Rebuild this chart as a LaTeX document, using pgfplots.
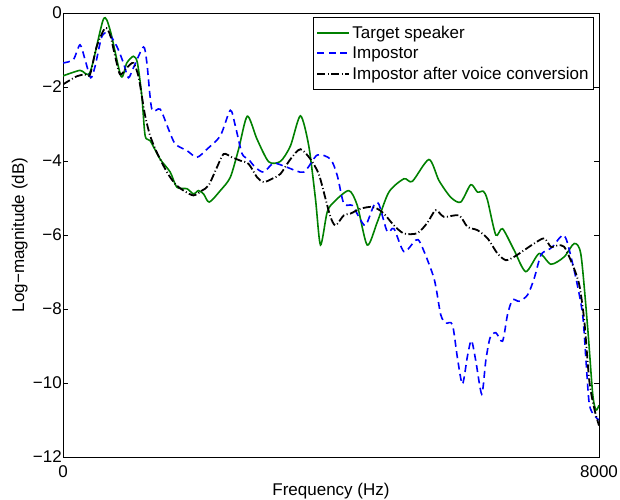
\documentclass[border=0pt]{standalone}
\usepackage{fontspec}
\setmainfont{Liberation Sans}
\usepackage{pgfplots}
\pgfplotsset{compat=1.18}
\definecolor{mgreen}{rgb}{0,0.5,0}
\begin{document}
\begin{tikzpicture}[font=\fontsize{17bp}{20bp}\selectfont]
\begin{axis}[
  name=ax,
  scale only axis, width=536bp, height=444bp,
  xmin=0, xmax=8000, ymin=-12, ymax=0,
  xtick={0,8000}, xticklabels={0,8000},
  ytick={-12,-10,-8,-6,-4,-2,0}, yticklabels={−12,−10,−8,−6,−4,−2,0},
  tick align=inside, tick pos=both,
  major tick length=5bp,
  axis line style={line width=0.9bp},
  every tick/.style={black, line width=0.8bp},
  yticklabel style={inner sep=1bp},
  xticklabel style={inner sep=2bp, yshift=-6bp},
  xlabel={Frequency (Hz)}, ylabel={Log−magnitude (dB)},
  xlabel style={inner sep=0bp, yshift=-4bp},
  ylabel style={inner sep=0bp, yshift=4bp},
  legend cell align=left,
  legend style={at={(1,1)}, anchor=north east, xshift=-5bp, yshift=-4bp,
    draw=black, line width=0.8bp, inner xsep=3bp, inner ysep=5bp,
    nodes={inner ysep=3.5bp, inner xsep=2bp}},
  legend image code/.code={\draw[#1, line width=2bp] (0bp,0bp) -- (32bp,0bp);},
]
\addplot[mgreen, line width=1.6bp, smooth, tension=0.45] coordinates {
(0,-1.70) (254,-1.55) (404,-1.60) (603,-0.17) (703,-0.46) (867,-1.71) (952,-1.35)
(1051,-1.17) (1111,-1.35) (1177,-2.25) (1226,-3.32) (1301,-3.45) (1450,-3.95)
(1600,-4.30) (1700,-4.71) (1850,-4.75) (1948,-4.89) (2023,-4.80) (2098,-4.89)
(2183,-5.11) (2348,-4.80) (2497,-4.44) (2621,-3.68) (2751,-2.79) (2896,-3.41)
(3070,-4.02) (3245,-4.01) (3395,-3.59) (3544,-2.78) (3668,-3.59) (3768,-5.02)
(3843,-6.27) (3943,-5.38) (4042,-5.11) (4266,-4.80) (4392,-5.20) (4541,-6.27)
(4691,-5.65) (4864,-4.84) (5089,-4.48) (5214,-4.55) (5462,-3.96) (5612,-4.53)
(5787,-4.98) (5936,-5.11) (6086,-4.64) (6186,-4.84) (6276,-4.82) (6336,-5.06)
(6460,-6.00) (6560,-5.83) (6733,-6.41) (6908,-6.99) (7107,-6.50) (7282,-6.79)
(7481,-6.59) (7631,-6.23) (7731,-6.54) (7831,-8.51) (7906,-10.30) (7955,-10.73)
(8000,-10.6)
};
\addlegendentry{Target speaker}
\addplot[blue, line width=1.6bp, smooth, tension=0.45, dash pattern=on 7bp off 4.5bp] coordinates {
(0,-1.35) (154,-1.26) (254,-0.86) (329,-1.26) (414,-1.75) (479,-1.44) (579,-0.64)
(677,-0.55) (803,-0.90) (902,-1.35) (976,-1.75) (1051,-1.48) (1201,-0.92)
(1252,-1.35) (1326,-2.60) (1450,-2.60) (1575,-3.14) (1675,-3.54) (1850,-3.72)
(1999,-3.90) (2149,-3.68) (2348,-3.32) (2497,-2.63) (2572,-3.05) (2672,-3.80)
(2766,-3.95) (2871,-4.17) (2995,-4.30) (3145,-4.06) (3345,-4.17) (3593,-4.30)
(3794,-3.84) (3992,-3.95) (4093,-4.39) (4191,-5.15) (4317,-5.20) (4416,-5.51)
(4516,-5.74) (4640,-5.20) (4715,-5.17) (4840,-5.91) (4939,-5.83) (5089,-6.45)
(5263,-6.14) (5338,-6.23) (5537,-7.17) (5637,-8.15) (5712,-8.38) (5812,-8.42)
(5887,-9.32) (5962,-10.03) (6037,-9.27) (6096,-8.85) (6161,-9.40) (6250,-10.30)
(6310,-9.40) (6374,-8.78) (6460,-8.64) (6560,-8.87) (6635,-8.15) (6709,-7.75)
(6808,-7.79) (6934,-7.62) (7033,-7.17) (7133,-6.54) (7233,-6.41) (7307,-6.32)
(7406,-6.09) (7472,-6.00) (7532,-6.23) (7656,-7.17) (7756,-8.15) (7806,-9.40)
(7855,-10.57) (7930,-10.88) (8000,-11.0)
};
\addlegendentry{Impostor}
\addplot[black, line width=1.8bp, smooth, tension=0.45, dash pattern=on 8bp off 2.5bp on 1bp off 2.5bp] coordinates {
(0,-1.93) (205,-1.71) (329,-1.66) (404,-1.66) (504,-0.90) (628,-0.41) (703,-0.59)
(778,-1.17) (852,-1.66) (952,-1.48) (1051,-1.35) (1126,-1.71) (1177,-2.25)
(1226,-2.78) (1301,-3.32) (1401,-3.77) (1551,-4.30) (1675,-4.62) (1799,-4.80)
(1948,-4.93) (2074,-4.80) (2173,-4.66) (2298,-4.17) (2397,-3.81) (2523,-3.90)
(2647,-3.99) (2771,-4.08) (2896,-4.44) (2995,-4.57) (3121,-4.48) (3245,-4.35)
(3395,-3.95) (3544,-3.68) (3693,-3.95) (3817,-4.35) (3918,-5.02) (3992,-5.51)
(4067,-5.74) (4191,-5.47) (4292,-5.42) (4441,-5.29) (4591,-5.24) (4691,-5.29)
(4790,-5.42) (4939,-5.74) (5089,-5.96) (5289,-5.95) (5438,-5.67) (5562,-5.33)
(5687,-5.51) (5911,-5.47) (6037,-5.78) (6186,-5.87) (6336,-6.09) (6485,-6.50)
(6609,-6.68) (6733,-6.59) (6883,-6.41) (7033,-6.23) (7182,-6.09) (7282,-6.32)
(7382,-6.28) (7481,-6.32) (7607,-6.81) (7706,-7.35) (7781,-8.33) (7855,-9.94)
(7930,-10.70) (8000,-11.15)
};
\addlegendentry{Impostor after voice conversion}
\end{axis}
\path ([xshift=-63bp,yshift=-40bp]ax.south west) rectangle ([xshift=21bp,yshift=13bp]ax.north east);
\end{tikzpicture}
\end{document}
